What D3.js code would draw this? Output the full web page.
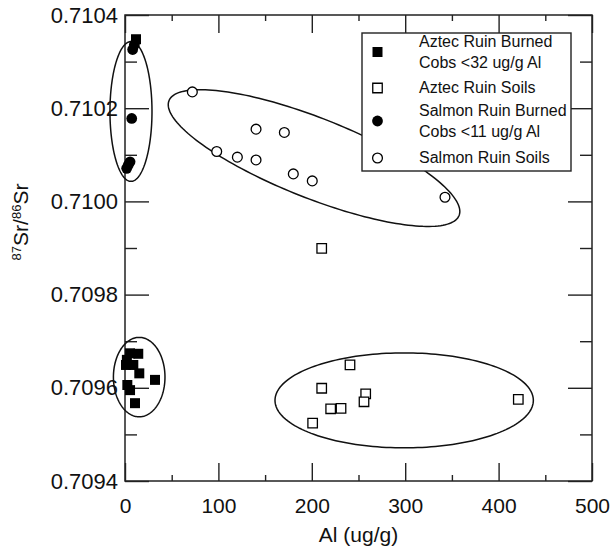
<!DOCTYPE html>
<html lang="en">
    <head>
        <meta charset="UTF-8" />
        <title>Sr isotope ratio vs Al</title>
        <style>
            body {
                margin: 0;
                padding: 0;
                background-color: #fff;
            }
            svg {
                display: block;
                font-family: 'Liberation Sans', Arial, sans-serif;
            }
        </style>
    </head>
    <body>
        <div id="chart"></div>
        <script src="https://d3js.org/d3.v7.min.js"></script>
        <script>
            // values
            const aztecCobsAl = [11.8, 5.4, 14.2, 1.1, 8.9, 2.0, 15.3, 32.1, 2.5, 5.4, 10.7];
            const aztecCobsSr = [0.710348, 0.709674, 0.709673, 0.709649, 0.709649, 0.70966, 0.709631, 0.709617, 0.709606, 0.709595, 0.709567];

            const aztecSoilAl = [210.6, 240.9, 210.6, 257.7, 255.9, 220.2, 231.3, 200.9, 421.1];
            const aztecSoilSr = [0.709899, 0.709649, 0.709599, 0.709587, 0.70957, 0.709555, 0.709556, 0.709524, 0.709575];

            const salmonCobsAl = [10.0, 8.2, 7.2, 5.4, 3.5, 1.8];
            const salmonCobsSr = [0.710336, 0.710326, 0.710178, 0.710085, 0.710078, 0.710071];

            const salmonSoilAl = [72.1, 140.3, 170.6, 98.2, 120.3, 140.3, 180.2, 200.5, 342.6];
            const salmonSoilSr = [0.710235, 0.710155, 0.710148, 0.710107, 0.710095, 0.710089, 0.710059, 0.710044, 0.710009];

            // grouping ellipses: centre, two semi-axis vectors (data units)
            const ellipseCx = [6.4, 15.2, 202.4, 298.9];
            const ellipseCy = [0.710193, 0.709623, 0.710093, 0.709573];
            const ellipseU = [[22.5, 0], [27.6, 0], [155.3, -0.0001232], [138.3, 0]];
            const ellipseV = [[0, 0.00015], [0, 0.0000852], [-15.7, -0.0000798], [0, 0.0001019]];

            const xMajor = [0, 100, 200, 300, 400, 500];
            const xMinor = [50, 150, 250, 350, 450];
            const yMajor = [0.7094, 0.7096, 0.7098, 0.71, 0.7102, 0.7104];
            const yMinor = [0.7095, 0.7097, 0.7099, 0.7101, 0.7103];

            const legendLabels = [
                ['Aztec Ruin Burned', 'Cobs <32 ug/g Al'],
                ['Aztec Ruin Soils'],
                ['Salmon Ruin Burned', 'Cobs <11 ug/g Al'],
                ['Salmon Ruin Soils'],
            ];

            const width = 612;
            const height = 555;
            const margin = { top: 15, right: 20, bottom: 74, left: 125 };

            const svg = d3.select('#chart').append('svg').attr('width', width).attr('height', height);

            const x = d3.scaleLinear().domain([0, 500]).range([margin.left, width - margin.right]);
            const y = d3.scaleLinear().domain([0.7094, 0.7104]).range([height - margin.bottom, margin.top]);

            const x0 = x.range()[0], x1 = x.range()[1];
            const y0 = y.range()[0], y1 = y.range()[1];

            function styleAxis(g, fontSize) {
                g.select('.domain').remove();
                g.selectAll('line').attr('stroke', '#222').attr('stroke-width', 1.4);
                g.selectAll('text').attr('fill', '#111').style('font-size', fontSize + 'px').attr('font-family', null);
            }

            // bottom
            svg.append('g').attr('transform', `translate(0,${y0})`)
                .call(d3.axisBottom(x).tickValues(xMajor).tickSizeInner(-18).tickSizeOuter(0).tickPadding(17))
                .call(styleAxis, 21);
            svg.append('g').attr('transform', `translate(0,${y0})`)
                .call(d3.axisBottom(x).tickValues(xMinor).tickSizeInner(-6).tickSizeOuter(0).tickFormat(''))
                .call(styleAxis, 21);
            // top
            svg.append('g').attr('transform', `translate(0,${y1})`)
                .call(d3.axisTop(x).tickValues(xMajor).tickSizeInner(-18).tickSizeOuter(0).tickFormat(''))
                .call(styleAxis, 21);
            svg.append('g').attr('transform', `translate(0,${y1})`)
                .call(d3.axisTop(x).tickValues(xMinor).tickSizeInner(-6).tickSizeOuter(0).tickFormat(''))
                .call(styleAxis, 21);
            // left
            svg.append('g').attr('transform', `translate(${x0},0)`)
                .call(d3.axisLeft(y).tickValues(yMajor).tickSizeInner(-24).tickSizeOuter(0).tickPadding(7).tickFormat(d3.format('.4f')))
                .call(styleAxis, 22);
            svg.append('g').attr('transform', `translate(${x0},0)`)
                .call(d3.axisLeft(y).tickValues(yMinor).tickSizeInner(-12).tickSizeOuter(0).tickFormat(''))
                .call(styleAxis, 22);
            // right
            svg.append('g').attr('transform', `translate(${x1},0)`)
                .call(d3.axisRight(y).tickValues(yMajor).tickSizeInner(-24).tickSizeOuter(0).tickFormat(''))
                .call(styleAxis, 22);
            svg.append('g').attr('transform', `translate(${x1},0)`)
                .call(d3.axisRight(y).tickValues(yMinor).tickSizeInner(-12).tickSizeOuter(0).tickFormat(''))
                .call(styleAxis, 22);

            svg.append('rect')
                .attr('x', x0).attr('y', y1)
                .attr('width', x1 - x0).attr('height', y0 - y1)
                .attr('fill', 'none').attr('stroke', '#222').attr('stroke-width', 1.5);

            // axis titles
            svg.append('text')
                .attr('x', (x0 + x1) / 2).attr('y', 542)
                .attr('text-anchor', 'middle')
                .style('font-size', '21px').attr('fill', '#111')
                .text('Al (ug/g)');

            const yTitle = svg.append('text')
                .attr('transform', 'translate(28,222) rotate(-90)')
                .attr('text-anchor', 'middle')
                .style('font-size', '21px').attr('fill', '#111');
            yTitle.append('tspan').style('font-size', '13px').attr('dy', -7).text('87');
            yTitle.append('tspan').attr('dy', 7).text('Sr/');
            yTitle.append('tspan').style('font-size', '13px').attr('dy', -7).text('86');
            yTitle.append('tspan').attr('dy', 7).text('Sr');

            // ellipses
            const angles = d3.range(0, 2 * Math.PI, Math.PI / 90);
            const ellipseLine = d3.line().curve(d3.curveLinearClosed);
            ellipseCx.forEach((cx, i) => {
                const pts = angles.map((t) => [
                    x(cx + ellipseU[i][0] * Math.cos(t) + ellipseV[i][0] * Math.sin(t)),
                    y(ellipseCy[i] + ellipseU[i][1] * Math.cos(t) + ellipseV[i][1] * Math.sin(t)),
                ]);
                svg.append('path').attr('d', ellipseLine(pts)).attr('fill', 'none').attr('stroke', '#111').attr('stroke-width', 1.5);
            });

            // markers
            const square = d3.symbol().type(d3.symbolSquare).size(100);
            const openSquare = d3.symbol().type(d3.symbolSquare).size(90);

            function drawSquares(al, sr, filled) {
                svg.append('g').selectAll('path').data(al).join('path')
                    .attr('transform', (d, i) => `translate(${x(d)},${y(sr[i])})`)
                    .attr('d', filled ? square : openSquare)
                    .attr('fill', filled ? '#000' : '#fff')
                    .attr('stroke', '#000').attr('stroke-width', filled ? 0 : 1.3);
            }
            function drawCircles(al, sr, filled) {
                svg.append('g').selectAll('circle').data(al).join('circle')
                    .attr('cx', (d) => x(d)).attr('cy', (d, i) => y(sr[i]))
                    .attr('r', filled ? 5.4 : 4.9)
                    .attr('fill', filled ? '#000' : '#fff')
                    .attr('stroke', '#000').attr('stroke-width', filled ? 0 : 1.3);
            }

            drawSquares(aztecSoilAl, aztecSoilSr, false);
            drawCircles(salmonSoilAl, salmonSoilSr, false);
            drawSquares(aztecCobsAl, aztecCobsSr, true);
            drawCircles(salmonCobsAl, salmonCobsSr, true);

            // legend
            const legend = svg.append('g');
            legend.append('rect')
                .attr('x', 362).attr('y', 33).attr('width', 209).attr('height', 138)
                .attr('fill', '#fff').attr('stroke', '#222').attr('stroke-width', 1.4);

            const symY = [52, 88, 121, 158];
            const textY = [47, 93, 116, 163];
            legendLabels.forEach((lines, i) => {
                const sx = 377.5;
                if (i === 0 || i === 1) {
                    legend.append('path')
                        .attr('transform', `translate(${sx},${symY[i]})`)
                        .attr('d', i === 0 ? square : openSquare)
                        .attr('fill', i === 0 ? '#000' : '#fff')
                        .attr('stroke', '#000').attr('stroke-width', i === 0 ? 0 : 1.3);
                } else {
                    legend.append('circle')
                        .attr('cx', sx).attr('cy', symY[i])
                        .attr('r', i === 2 ? 5.4 : 4.9)
                        .attr('fill', i === 2 ? '#000' : '#fff')
                        .attr('stroke', '#000').attr('stroke-width', i === 2 ? 0 : 1.3);
                }
                const t = legend.append('text').attr('x', 419).attr('y', textY[i]).style('font-size', '16px').attr('fill', '#111');
                lines.forEach((line, j) => {
                    t.append('tspan').attr('x', 419).attr('dy', j === 0 ? 0 : 20.5).text(line);
                });
            });
        </script>
    </body>
</html>
